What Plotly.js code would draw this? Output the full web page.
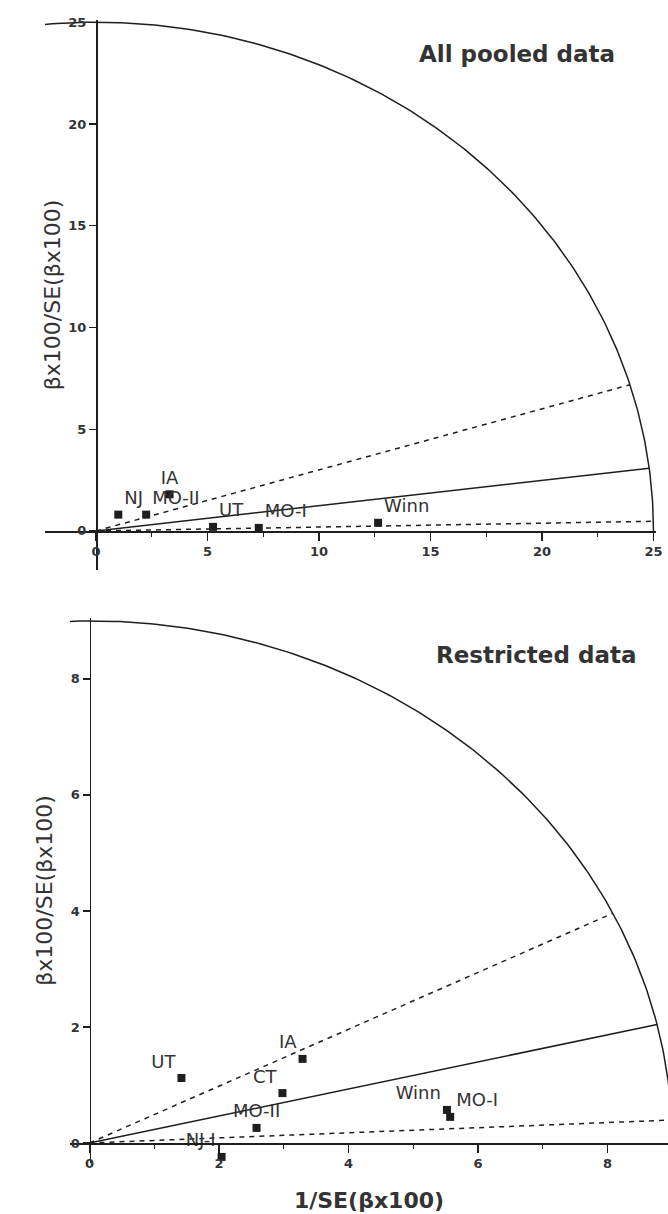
<!DOCTYPE html>
<html>
<head>
<meta charset="utf-8">
<script src="https://cdn.plot.ly/plotly-3.0.1.min.js"></script>
<style>html,body{margin:0;padding:0;background:#fff;}#chart{width:668px;height:1214px;}</style>
</head>
<body>
<div id="chart"></div>
<script>
// ---- Data ----
const pooledLabels = ['NJ', 'IA', 'MO-II', 'UT', 'MO-I', 'Winn'];
const pooledX = [1.0, 3.3, 2.25, 5.25, 7.3, 12.65];
const pooledY = [0.8, 1.8, 0.8, 0.2, 0.15, 0.4];

const restrLabels = ['UT', 'IA', 'CT', 'MO-II', 'NJ-I', 'Winn', 'MO-I'];
const restrX = [1.42, 3.29, 2.98, 2.58, 2.04, 5.52, 5.57];
const restrY = [1.12, 1.45, 0.86, 0.26, -0.24, 0.57, 0.45];

const pooledRadius = 25;
const restrRadius = 9;
// slopes: [estimate, upper limit, lower limit]
const pooledSlopes = [0.124, 0.30, 0.019];
const restrSlopes = [0.233, 0.49, 0.044];

const pooledTicks = [0, 5, 10, 15, 20, 25];
const restrTicks = [0, 2, 4, 6, 8];

// ---- Styles ----
const pooledTextPos = ['top right', 'top center', 'top right', 'top right', 'top right', 'top right'];
const restrTextPos = ['top left', 'top left', 'top left', 'top center', 'top left', 'top left', 'top right'];
const INK = '#1e1e1e';
const TXT = '#333333';
const lineStyles = ['solid', '5px,5px', '5px,5px'];

function arc(R, xa, ya) {
  const xs = [], ys = [];
  for (let a = 0; a <= 100; a += 0.5) {
    const t = a * Math.PI / 180;
    xs.push(R * Math.cos(t)); ys.push(R * Math.sin(t));
  }
  return {x: xs, y: ys, xaxis: xa, yaxis: ya, mode: 'lines', line: {color: INK, width: 1.5}, hoverinfo: 'skip', showlegend: false};
}
function ray(R, s, dash, xa, ya) {
  const xe = R / Math.sqrt(1 + s * s);
  return {x: [0, xe], y: [0, s * xe], xaxis: xa, yaxis: ya, mode: 'lines', line: {color: INK, width: 1.5, dash: dash}, hoverinfo: 'skip', showlegend: false};
}
function pts(x, y, labels, pos, xa, ya) {
  return {x: x, y: y, text: labels, textposition: pos, xaxis: xa, yaxis: ya, mode: 'markers+text',
    marker: {symbol: 'square', size: 8, color: INK}, cliponaxis: false,
    textfont: {family: 'DejaVu Sans', size: 18, color: TXT}, showlegend: false};
}

const traces = [];
traces.push(arc(pooledRadius, 'x', 'y'));
pooledSlopes.forEach((s, i) => traces.push(ray(pooledRadius, s, lineStyles[i], 'x', 'y')));
traces.push(pts(pooledX, pooledY, pooledLabels, pooledTextPos, 'x', 'y'));
traces.push(arc(restrRadius, 'x2', 'y2'));
restrSlopes.forEach((s, i) => traces.push(ray(restrRadius, s, lineStyles[i], 'x2', 'y2')));
traces.push(pts(restrX, restrY, restrLabels, restrTextPos, 'x2', 'y2'));

const W = 668, H = 1214;
const tickFont = {family: 'DejaVu Sans', size: 13, color: TXT, weight: 'bold'};
function axisBase() {
  return {showgrid: false, zeroline: false, showline: true, linecolor: INK, linewidth: 1.5,
    ticks: 'outside', ticklen: 8, tickwidth: 1.3, tickcolor: INK, tickfont: tickFont, anchor: 'free'};
}
const yTitleFont = {family: 'DejaVu Sans', size: 22, color: TXT};

const layout = {
  width: W, height: H,
  margin: {l: 0, r: 0, t: 0, b: 0},
  paper_bgcolor: '#ffffff', plot_bgcolor: '#ffffff',
  showlegend: false,
  xaxis: Object.assign(axisBase(), {
    domain: [45 / W, 655.7 / W], range: [-2.287, 25.1], position: 1 - 531 / H,
    tickvals: pooledTicks, ticktext: pooledTicks.map(String),
    minor: {dtick: 2.5, tick0: 0, ticks: 'outside', ticklen: 4, tickcolor: INK, showgrid: false}
  }),
  yaxis: Object.assign(axisBase(), {
    domain: [1 - 570 / H, 1 - 20 / H], range: [-1.92, 25.11], position: 96 / W,
    tickvals: pooledTicks, ticktext: pooledTicks.map(String), ticklen: 7,
    title: {text: 'βx100/SE(βx100)', font: yTitleFont, standoff: 0}
  }),
  xaxis2: Object.assign(axisBase(), {
    domain: [70 / W, 1], range: [-0.301, 8.934], position: 1 - 1143 / H,
    tickvals: restrTicks, ticktext: restrTicks.map(String),
    minor: {dtick: 1, tick0: 0, ticks: 'outside', ticklen: 4, tickcolor: INK, showgrid: false},
    title: {text: '1/SE(βx100)', font: {family: 'DejaVu Sans', size: 22, color: TXT, weight: 'bold'}, standoff: 22}
  }),
  yaxis2: Object.assign(axisBase(), {
    domain: [1 - 1163 / H, 1 - 618 / H], range: [-0.345, 9.05], position: 89.5 / W,
    tickvals: restrTicks, ticktext: restrTicks.map(String), ticklen: 7,
    title: {text: 'βx100/SE(βx100)', font: yTitleFont, standoff: 10}
  }),
  annotations: [
    {text: 'All pooled data', xref: 'paper', yref: 'paper', x: 517 / W, y: 1 - 54 / H,
     xanchor: 'center', yanchor: 'middle', showarrow: false,
     font: {family: 'DejaVu Sans', size: 23, color: TXT, weight: 'bold'}},
    {text: 'Restricted data', xref: 'paper', yref: 'paper', x: 536 / W, y: 1 - 655 / H,
     xanchor: 'center', yanchor: 'middle', showarrow: false,
     font: {family: 'DejaVu Sans', size: 23, color: TXT, weight: 'bold'}}
  ]
};

Plotly.newPlot('chart', traces, layout, {staticPlot: true, displayModeBar: false});
</script>
</body>
</html>
